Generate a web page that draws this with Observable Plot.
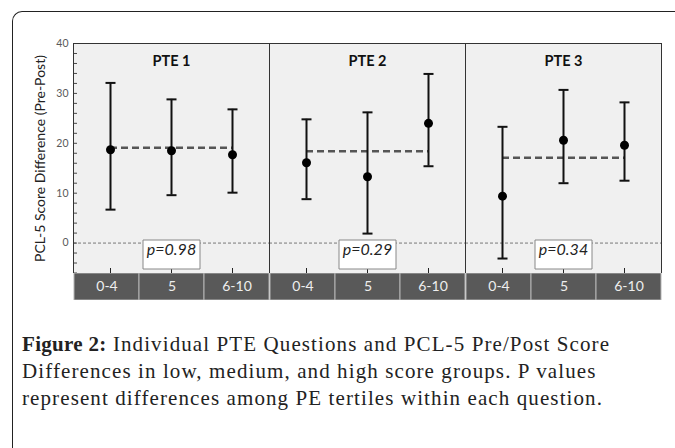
<!DOCTYPE html>
<html>
<head>
<meta charset="utf-8">
<script src="https://cdn.jsdelivr.net/npm/d3@7"></script>
<script src="https://cdn.jsdelivr.net/npm/@observablehq/plot@0.6"></script>
<style>
  html, body { margin: 0; padding: 0; background: #fff; }
  #wrap { position: relative; width: 675px; height: 448px; overflow: hidden; }
  #border { position: absolute; left: 12px; top: 11px; width: 720px; height: 520px;
            border-left: 1.5px solid #222; border-top: 1.5px solid #222;
            border-top-left-radius: 10px; pointer-events: none; }
  #chart svg, #strip svg { display: block; }
  #caption { position: absolute; left: 22px; top: 331px; font-family: "Liberation Serif", serif;
             font-size: 21px; line-height: 27px; color: #222; white-space: nowrap; letter-spacing: 1.1px; }
  #caption b { font-weight: bold; letter-spacing: 0.3px; }
</style>
</head>
<body>
<div id="wrap">
  <div id="chart"></div>
  <div id="strip"></div>
  <div id="caption"><b>Figure 2:</b> Individual PTE Questions and PCL-5 Pre/Post Score<br>Differences in low, medium, and high score groups. P values<br>represent differences among PE tertiles within each question.</div>
  <div id="border"></div>
</div>
<script>
// ---- data ----
const panels = ["PTE 1", "PTE 2", "PTE 3"];
const groups = ["0-4", "5", "6-10"];

const pte1Mean = [18.7, 18.5, 17.7];
const pte1Low  = [6.7, 9.6, 10.1];
const pte1High = [32.1, 28.8, 26.8];

const pte2Mean = [16.1, 13.3, 24.0];
const pte2Low  = [8.8, 1.9, 15.4];
const pte2High = [24.8, 26.2, 33.9];

const pte3Mean = [9.4, 20.6, 19.6];
const pte3Low  = [-3.1, 12.0, 12.5];
const pte3High = [23.3, 30.7, 28.2];

const overallMean = [19.1, 18.4, 17.1];
const pValues = ["p=0.98", "p=0.29", "p=0.34"];

const yTickLabels = [0, 10, 20, 30, 40];
const yMinorTicks = [-6, -4, -2, 0, 2, 4, 6, 8, 10, 12, 14, 16, 18, 20, 22, 24, 26, 28, 30, 32, 34, 36, 38, 40];
const yTitle = "PCL-5 Score Difference (Pre-Post)";

// ---- tables built from arrays ----
const means = [pte1Mean, pte2Mean, pte3Mean];
const lows = [pte1Low, pte2Low, pte3Low];
const highs = [pte1High, pte2High, pte3High];
const rows = panels.flatMap((p, i) => groups.map((g, j) => ({
  panel: p, group: g, mean: means[i][j], lo: lows[i][j], hi: highs[i][j]
})));
const summary = panels.map((p, i) => ({panel: p, mean: overallMean[i], p: pValues[i]}));
const cells = panels.flatMap(p => groups.map(g => ({panel: p, group: g})));

const capSymbol = {draw(ctx) { ctx.moveTo(-5, 0); ctx.lineTo(5, 0); }};
const boxSymbol = {draw(ctx) { ctx.rect(-28.5, -14.5, 57, 29); }};

const fontFamily = "Lato, 'Open Sans', sans-serif";

const chart = Plot.plot({
  width: 675, height: 273,
  marginTop: 43, marginBottom: 0, marginLeft: 73, marginRight: 14,
  style: {background: "none", fontFamily, color: "#222"},
  fx: {domain: panels, padding: 0, axis: null},
  x: {type: "point", domain: groups, padding: 0.6, axis: null},
  y: {domain: [-6.1, 40], axis: null},
  marks: [
    Plot.frame({fill: "#f0f0f0"}),
    Plot.ruleY([0], {stroke: "#777", strokeWidth: 1, strokeDasharray: "3,2"}),
    Plot.axisY({ticks: yMinorTicks, tickSize: -4, tickFormat: () => "", label: null, stroke: "#444"}),
    Plot.axisY({ticks: yTickLabels, tickSize: 0, tickPadding: 5, fontSize: 10.5, fill: "#595959", label: null}),
    Plot.axisY({ticks: [], tickSize: 0, fontSize: 14, fill: "#222",
                label: yTitle, labelAnchor: "center", labelArrow: "none", labelOffset: 38}),
    Plot.axisX({tickSize: -5, tickFormat: () => "", label: null, stroke: "#222"}),
    Plot.ruleY(summary, {fx: "panel", y: "mean", x1: () => groups[0], x2: () => groups[2],
                         stroke: "#555", strokeWidth: 2.5, strokeDasharray: "7,4"}),
    Plot.ruleX(rows, {fx: "panel", x: "group", y1: "lo", y2: "hi", stroke: "#111", strokeWidth: 2}),
    Plot.dot(rows, {fx: "panel", x: "group", y: "lo", symbol: capSymbol, stroke: "#111", strokeWidth: 2, fill: "none"}),
    Plot.dot(rows, {fx: "panel", x: "group", y: "hi", symbol: capSymbol, stroke: "#111", strokeWidth: 2, fill: "none"}),
    Plot.dot(rows, {fx: "panel", x: "group", y: "mean", r: 4.5, fill: "#000", stroke: null}),
    Plot.dot(summary, {fx: "panel", x: () => groups[1], frameAnchor: "bottom", dy: -19,
                       symbol: boxSymbol, fill: "#fff", stroke: "#888", strokeWidth: 1}),
    Plot.text(summary, {fx: "panel", x: () => groups[1], frameAnchor: "bottom", dy: -19, text: "p",
                        fontStyle: "italic", fontSize: 16, fill: "#222"}),
    Plot.text(panels, {fx: d => d, text: d => d, frameAnchor: "top", dy: 12,
                       fontWeight: "bold", fontSize: 14.5, fill: "#111"}),
    Plot.frame({stroke: "#333", strokeWidth: 1})
  ]
});
document.getElementById("chart").append(chart);

const strip = Plot.plot({
  width: 675, height: 27,
  marginTop: 0, marginBottom: 0, marginLeft: 73, marginRight: 14,
  style: {background: "none", fontFamily},
  fx: {domain: panels, padding: 0, axis: null},
  x: {type: "band", domain: groups, padding: 0, axis: null},
  marks: [
    Plot.cell(cells, {fx: "panel", x: "group", fill: "#595959", stroke: "#b5b5b5", strokeWidth: 1}),
    Plot.text(cells, {fx: "panel", x: "group", text: "group", fill: "#eee", fontSize: 14})
  ]
});
document.getElementById("strip").append(strip);
</script>
</body>
</html>
